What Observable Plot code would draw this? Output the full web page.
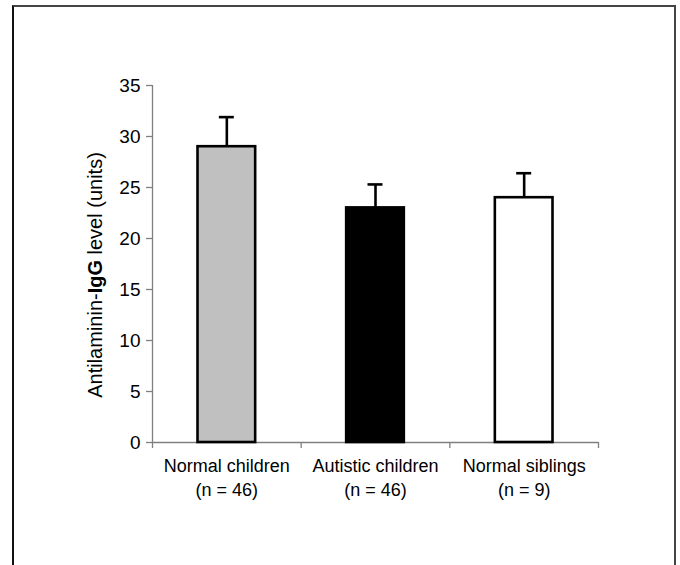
<!DOCTYPE html>
<html>
<head>
<meta charset="utf-8">
<script src="https://cdn.jsdelivr.net/npm/d3@7"></script>
<script src="https://cdn.jsdelivr.net/npm/@observablehq/plot@0.6"></script>
<style>
  html, body { margin: 0; padding: 0; background: #fff; }
  #wrap { position: relative; width: 680px; height: 565px; overflow: hidden; }
  #frame { position: absolute; left: 12px; top: 5px; width: 664px; height: 580px; box-sizing: border-box;
           border-top: 2px solid #444; border-left: 2px solid #111; border-right: 2px solid #444; pointer-events: none; }
  #chart { position: absolute; left: 0; top: 0; }
</style>
</head>
<body>
<div id="wrap"><div id="chart"></div><div id="frame"></div></div>
<script>
const categories = ["Normal children", "Autistic children", "Normal siblings"];
const sampleSizes = ["(n = 46)", "(n = 46)", "(n = 9)"];
const means = [29.0, 23.0, 24.0];
const errors = [2.9, 2.3, 2.4];
const fills = ["#c0c0c0", "#000000", "#ffffff"];
const yTicks = [0, 5, 10, 15, 20, 25, 30, 35];
const yTitle = ["Antilaminin-", "IgG", " level (units)"];

const data = categories.map((c, i) => ({
  i, category: c, label: c + "\n" + sampleSizes[i],
  mean: means[i], upper: means[i] + errors[i], fill: fills[i]
}));

const font = "'Liberation Sans', Arial, sans-serif";
const plot = Plot.plot({
  width: 680,
  height: 565,
  marginLeft: 152,
  marginRight: 82,
  marginTop: 85,
  marginBottom: 123,
  style: { fontFamily: font, background: "transparent", color: "#000" },
  x: { domain: [0, categories.length], axis: null },
  y: { domain: [0, 35], axis: null },
  marks: [
    // y axis
    Plot.ruleX([0], { y1: 0, y2: 35, stroke: "#808080", strokeWidth: 1.3 }),
    Plot.axisY({ ticks: yTicks, tickSize: 6, tickPadding: 6, fontSize: 19, stroke: "#808080", strokeWidth: 1.3, tickFormat: d => d, fill: "#000" }),
    // x axis
    Plot.ruleY([0], { x1: 0, x2: categories.length, stroke: "#808080", strokeWidth: 1.3 }),
    Plot.axisX({ ticks: d3.range(categories.length + 1), tickSize: 6, tickFormat: () => "", stroke: "#808080", strokeWidth: 1.3 }),
    // bars
    Plot.rectY(data, { x1: d => d.i, x2: d => d.i + 1, y: "mean", insetLeft: 45.5, insetRight: 45.5,
      fill: d => d.fill, stroke: "#000", strokeWidth: 2.6 }),
    // error bars
    Plot.ruleX(data, { x: d => d.i + 0.5, y1: "mean", y2: "upper", stroke: "#000", strokeWidth: 2.6 }),
    Plot.ruleY(data, { y: "upper", x1: d => d.i + 0.5, x2: d => d.i + 0.5, insetLeft: -7.5, insetRight: -7.5, stroke: "#000", strokeWidth: 2.6 }),
    // category labels
    Plot.text(data, { x: d => d.i + 0.5, y: 0, text: "label", lineAnchor: "top", dy: 12, lineHeight: 1.35,
      fontSize: 18, fill: "#000" }),
    // y title
    Plot.text([yTitle.join("")], { frameAnchor: "left", textAnchor: "middle", rotate: -90, dx: -57, dy: 11, fontSize: 20, fill: "#000",
      className: "ytitle" })
  ]
});
document.getElementById("chart").appendChild(plot);

// bold "IgG" in the y-axis title
d3.select(plot).selectAll("g.ytitle text").each(function() {
  const t = d3.select(this);
  t.text(null);
  yTitle.forEach((s, k) => {
    t.append("tspan").attr("font-weight", k === 1 ? "bold" : null).text(s);
  });
});
</script>
</body>
</html>
